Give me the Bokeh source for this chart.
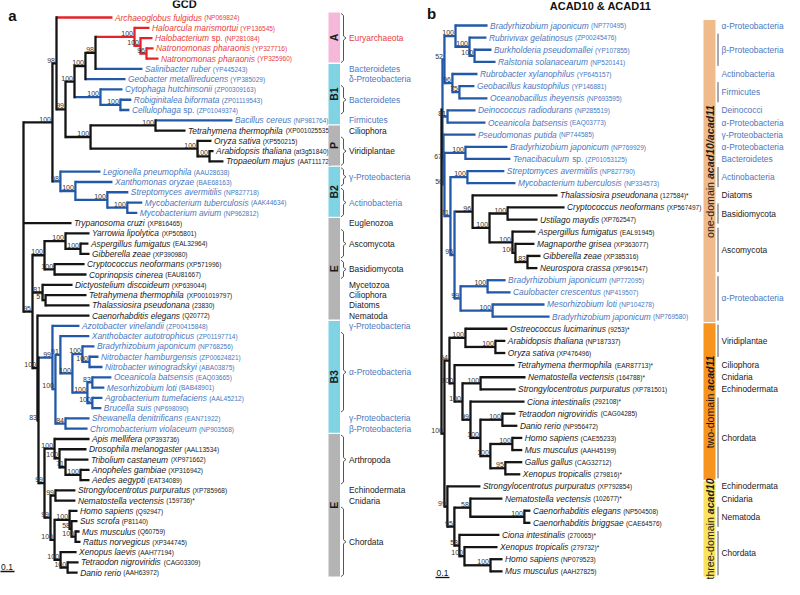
import math
from bokeh.plotting import figure
from bokeh.models import ColumnDataSource, Range1d
from bokeh.core.properties import value
from bokeh.embed import file_html
from bokeh.resources import INLINE

FONT = "Liberation Sans"

# ------------------------------------------------------------------ panel a : GCD
GCD_NAMES = [
    "Archaeoglobus fulgidus", "Haloarcula marismortui", "Halobacterium sp.", "Natronomonas pharaonis",
    "Natronomonas pharaonis", "Salinibacter ruber", "Geobacter metallireducens", "Cytophaga hutchinsonii",
    "Robiginitalea biformata", "Cellulophaga sp.", "Bacillus cereus", "Tetrahymena thermophila",
    "Oryza sativa", "Arabidopsis thaliana", "Tropaeolum majus", "Legionella pneumophila",
    "Xanthomonas oryzae", "Streptomyces avermitilis", "Mycobacterium tuberculosis", "Mycobacterium avium",
    "Trypanosoma cruzi", "Yarrowia lipolytica", "Aspergillus fumigatus", "Gibberella zeae",
    "Cryptococcus neoformans", "Coprinopsis cinerea", "Dictyostelium discoideum", "Tetrahymena thermophila",
    "Thalassiosira pseudonana", "Caenorhabditis elegans", "Azotobacter vinelandii", "Xanthobacter autotrophicus",
    "Bradyrhizobium japonicum", "Nitrobacter hamburgensis", "Nitrobacter winogradskyi", "Oceanicola batsensis",
    "Mesorhizobium loti", "Agrobacterium tumefaciens", "Brucella suis", "Shewanella denitrificans",
    "Chromobacterium violaceum", "Apis mellifera", "Drosophila melanogaster", "Tribolium castaneum",
    "Anopheles gambiae", "Aedes aegypti", "Strongylocentrotus purpuratus", "Nematostella vectensis",
    "Homo sapiens", "Sus scrofa", "Mus musculus", "Rattus norvegicus", "Xenopus laevis",
    "Tetraodon nigroviridis", "Danio rerio"]
GCD_ACC = [
    "(NP069824)", "(YP136545)", "(NP281084)", "(YP327716)", "(YP325960)", "(YP445243)", "(YP385029)",
    "(ZP00309163)", "(ZP01119543)", "(ZP01049374)", "(NP981764)", "(XP001025535)", "(XP550215)",
    "(at3g51840)", "(AAT11172)", "(AAU28638)", "(BAE68163)", "(NP827718)", "(AAK44634)", "(NP962812)",
    "(XP816465)", "(XP505801)", "(EAL32964)", "(XP390980)", "(XP571996)", "(EAU81667)", "(XP639044)",
    "(XP001019797)", "(23830)", "(Q20772)", "(ZP00415848)", "(ZP01197714)", "(NP768256)", "(ZP00624821)",
    "(ABA03875)", "(EAQ03665)", "(BAB48901)", "(AAL45212)", "(NP698090)", "(EAN71922)", "(NP903568)",
    "(XP393736)", "(AAL13534)", "(XP971662)", "(XP316942)", "(EAT34089)", "(XP785968)", "(159736)*",
    "(Q92947)", "(P81140)", "(Q60759)", "(XP344745)", "(AAH77194)", "(CAG03309)", "(AAH63972)"]
# r = archaea (red), b = bacteria (blue), k = eukaryotes (black)
GCD_KIND = "rrrrr" + "bbbbbb" + "kkkk" + "bbbbb" + "kkkkkkkkkk" + "bbbbbbbbbbb" + "kkkkkkkkkkkkkk"

# tree topology: leaf index : branch length, internal label = bootstrap
HALO = "(1:0.1,(2:0.08,(3:0.047,4:0.08)96:0.04)100:0.04)100:0.26"
CLADE_F = f"({HALO},5:0.313)98:0.067"
CLADE_E = f"({CLADE_F},6:0.267)100:0.073"
CYTO = "(7:0.147,(8:0.073,9:0.06)100:0.133)100:0.173"
CLADE_D = f"({CLADE_E},{CYTO})100:0.06"
CLADE_P = "((10:0.513,11:0.2)100:0.433,(12:0.093,(13:0.027,14:0.093)100:0.08)100:0.713)100:0.167"
CLADE_C = f"({CLADE_D},{CLADE_P})99:0.06"
CLADE_B = f"(0:0.373,{CLADE_C})98:0.027"
CLADE_B2 = "(15:0.267,(16:0.247,(17:0.14,(18:0.1,19:0.067)100:0.133)100:0.213)100:0.1)98:0.053"
CLADE_A1 = f"({CLADE_B},{CLADE_B2})100:0.193"
FUNGI = "((21:0.16,(22:0.053,23:0.06)100:0.1)100:0.14,(24:0.2,25:0.213)100:0.067)100:0.08"
CLADE_81 = "(26:0.2,(27:0.273,28:0.293)57:0.02)81:0.067"
CLADE_B3 = ("(30:0.18,((31:0.193,((32:0.08,(33:0.06,34:0.087)100:0.047)100:0.067,"
            "((35:0.127,36:0.08)83:0.033,(37:0.067,38:0.06)100:0.033)100:0.1)100:0.08)91:0.033,"
            "(39:0.16,40:0.147)84:0.067)100:0.02)99:0.093")
ARTHRO = "(41:0.233,(42:0.18,(43:0.153,(44:0.06,45:0.06)100:0.1)71:0.04)100:0.033)100:0.067"
VERT = ("((48:0.053,(49:0.04,(50:0.027,51:0.033)100:0.027)58:0.013)100:0.1,"
        "(52:0.107,(53:0.073,54:0.067)100:0.047)100:0.04)100:0.027")
DEUT = f"((46:0.133,47:0.133)99:0.033,{VERT})99:0.04"
METAZOA = f"({ARTHRO},{DEUT})99:0.04"
CLADE_83 = f"({CLADE_B3},{METAZOA})83:0.007"
CLADE_100B = f"(29:0.347,{CLADE_83})100:0.033"
CLADE_95 = f"({FUNGI},{CLADE_81},{CLADE_100B})95:0.06"
GCD_NEWICK = f"({CLADE_A1},20:0.32,{CLADE_95});"

GCD_GROUP_LABELS = ["Euryarchaeota", "Bacteroidetes", "δ-Proteobacteria", "Bacteroidetes", "Firmicutes",
                    "Ciliophora", "Viridiplantae", "γ-Proteobacteria", "Actinobacteria", "Euglenozoa",
                    "Ascomycota", "Basidiomycota", "Mycetozoa", "Ciliophora", "Diatoms", "Nematoda",
                    "γ-Proteobacteria", "α-Proteobacteria", "γ-Proteobacteria", "β-Proteobacteria",
                    "Arthropoda", "Echinodermata", "Cnidaria", "Chordata"]
GCD_GROUP_FIRST = [0, 5, 6, 7, 10, 11, 12, 15, 17, 20, 21, 24, 26, 27, 28, 29, 30, 31, 39, 40, 41, 46, 47, 48]
GCD_GROUP_LAST = [4, 5, 6, 9, 10, 11, 14, 16, 19, 20, 23, 25, 26, 27, 28, 29, 30, 38, 39, 40, 45, 46, 47, 54]

GCD_BAR_TEXT = ["A", "B1", "P", "B2", "E", "B3", "E"]
GCD_BAR_FIRST = [0, 5, 11, 15, 20, 30, 41]
GCD_BAR_LAST = [4, 10, 14, 19, 29, 40, 54]
GCD_BAR_KIND = ["pink", "cyan", "gray", "cyan", "gray", "cyan", "gray"]

# ------------------------------------------------------------------ panel b : ACAD10 & ACAD11
ACAD_NAMES = [
    "Bradyrhizobium japonicum", "Rubrivivax gelatinosus", "Burkholderia pseudomallei", "Ralstonia solanacearum",
    "Rubrobacter xylanophilus", "Geobacillus kaustophilus", "Oceanobacillus iheyensis", "Deinococcus radiodurans",
    "Oceanicola batsensis", "Pseudomonas putida", "Bradyrhizobium japonicum", "Tenacibaculum sp.",
    "Streptomyces avermitilis", "Mycobacterium tuberculosis", "Thalassiosira pseudonana", "Cryptococcus neoformans",
    "Ustilago maydis", "Aspergillus fumigatus", "Magnaporthe grisea", "Gibberella zeae", "Neurospora crassa",
    "Bradyrhizobium japonicum", "Caulobacter crescentus", "Mesorhizobium loti", "Bradyrhizobium japonicum",
    "Ostreococcus lucimarinus", "Arabidopsis thaliana", "Oryza sativa", "Tetrahymena thermophila",
    "Nematostella vectensis", "Strongylocentrotus purpuratus", "Ciona intestinalis", "Tetraodon nigroviridis",
    "Danio rerio", "Homo sapiens", "Mus musculus", "Gallus gallus", "Xenopus tropicalis",
    "Strongylocentrotus purpuratus", "Nematostella vectensis", "Caenorhabditis elegans",
    "Caenorhabditis briggsae", "Ciona intestinalis", "Xenopus tropicalis", "Homo sapiens", "Mus musculus"]
ACAD_ACC = [
    "(NP770495)", "(ZP00245476)", "(YP107855)", "(NP520141)", "(YP645157)", "(YP146881)", "(NP693595)",
    "(NP285519)", "(EAQ03773)", "(NP744585)", "(NP769929)", "(ZP01053125)", "(NP827790)", "(NP334573)",
    "(127584)*", "(XP567497)", "(XP762547)", "(EAL91945)", "(XP363077)", "(XP385316)", "(XP961547)",
    "(NP772095)", "(NP419507)", "(NP104278)", "(NP769580)", "(9253)*", "(NP187337)", "(XP476496)",
    "(EAR87713)*", "(164788)*", "(XP781501)", "(292108)*", "(CAG04285)", "(NP956472)", "(CAE55233)",
    "(AAH45199)", "(CAG32712)", "(279816)*", "(XP792854)", "(102677)*", "(NP504508)", "(CAE64576)",
    "(270065)*", "(279732)*", "(NP079523)", "(AAH27825)"]
ACAD_KIND = "b" * 14 + "k" * 7 + "b" * 4 + "k" * 21

N52 = ("((0:0.229,(1:0.121,(2:0.121,3:0.15)100:0.036)100:0.1)100:0.079,"
       "(4:0.179,(5:0.107,6:0.2)75:0.05)96:0.057)52:0.014")
D1R = "(7:0.2,8:0.271)81:0.036"
FUNGI_R = ("((15:0.407,16:0.214)100:0.129,(17:0.164,(18:0.136,(19:0.093,20:0.071)83:0.086)100:0.021)100:0.164)"
           "100:0.121")
THALFU = f"(14:0.607,{FUNGI_R})96:0.129"
ALPHA_R = "((21:0.129,22:0.164)100:0.193,(23:0.371,24:0.407)100:0.229)99:0.043"
N95R = f"({THALFU},{ALPHA_R})95#b:0.029"
N71 = f"((12:0.264,13:0.343)100:0.121,{N95R})71#b:0.043"
N56 = f"((10:0.3,11:0.321)100:0.15,{N71})56#b:0.007"
N67 = f"(9:0.229,{N56})67#b:0.007"
ONE_DOMAIN = f"({N52},{D1R},{N67}):0.007"
TWO_DOMAIN = ("((25:0.3,(26:0.071,27:0.071)100:0.214)100:0.114,(28:0.429,((29:0.321,30:0.25)100:0.129,"
              "(31:0.386,((32:0.093,33:0.107)100:0.157,((34:0.071,35:0.071)100:0.157,(36:0.121,37:0.107)95:0.107)"
              "100:0.071)100:0.071)99:0.057)100:0.057)100:0.036)54:0.036")
THREE_DOMAIN = ("(38:0.236,((39:0.229,(40:0.043,41:0.043)100:0.386)58:0.114,(42:0.286,(43:0.236,"
                "(44:0.086,45:0.086)100:0.186)100:0.036)53:0.036)95:0.05)99:0.021")
ACAD_NEWICK = f"({ONE_DOMAIN},({TWO_DOMAIN},{THREE_DOMAIN})100:0.021);"

ACAD_GROUP_LABELS = ["α-Proteobacteria", "β-Proteobacteria", "Actinobacteria", "Firmicutes", "Deinococci",
                     "α-Proteobacteria", "γ-Proteobacteria", "α-Proteobacteria", "Bacteroidetes", "Actinobacteria",
                     "Diatoms", "Basidiomycota", "Ascomycota", "α-Proteobacteria", "Viridiplantae", "Ciliophora",
                     "Cnidaria", "Echinodermata", "Chordata", "Echinodermata", "Cnidaria", "Nematoda", "Chordata"]
ACAD_GROUP_FIRST = [0, 1, 4, 5, 7, 8, 9, 10, 11, 12, 14, 15, 17, 21, 25, 28, 29, 30, 31, 38, 39, 40, 42]
ACAD_GROUP_LAST = [0, 3, 4, 6, 7, 8, 9, 10, 11, 13, 14, 16, 20, 24, 27, 28, 29, 30, 37, 38, 39, 41, 45]

ACAD_BAR_PLAIN = ["one-domain ", "two-domain ", "three-domain "]
ACAD_BAR_BOLD = ["acad10/acad11", "acad11", "acad10"]
ACAD_BAR_FIRST = [0, 25, 38]
ACAD_BAR_LAST = [24, 37, 45]
ACAD_BAR_KIND = ["tan", "orange", "yellow"]

# ------------------------------------------------------------------ styles
LINE = {"k": "#141414", "b": "#2258a8", "r": "#e3232a"}
TEXT = {"k": "#1a1a1a", "b": "#4a78c0", "r": "#e8403c"}
FILL = {"pink": "#f5b8da", "cyan": "#7fd3e3", "gray": "#b4b4b4",
        "tan": "#efbb8a", "orange": "#f7941d", "yellow": "#f8e45c"}

W_REG = {}
for chars, w in [(" ftI.,/:;!", 278), ("ijl", 222), ("r()-", 333), ("ckvsxyzJ", 500),
                 ("abdeghnopqu0123456789L", 556), ("FTZ", 611), ("ABEKPSVXY&", 667),
                 ("CDHNRUw", 722), ("GOQ", 778), ("mM", 833), ("W", 944), ("*", 389),
                 ("αβ", 578), ("γ", 500), ("δ", 556)]:
    for ch in chars:
        W_REG[ch] = w
W_BOLD = {"a": 556, "c": 556, "d": 611, "/": 278}
for ch in "0123456789":
    W_BOLD[ch] = 556


def tw(s, size, bold=False):
    tot = 0
    for ch in s:
        if bold and ch in W_BOLD:
            tot += W_BOLD[ch]
        else:
            tot += W_REG.get(ch, 556)
    return tot / 1000.0 * size


def parse_newick(s):
    pos = 0

    def node():
        nonlocal pos
        n = {"children": [], "label": "", "bl": 0.0}
        if s[pos] == "(":
            pos += 1
            n["children"].append(node())
            while s[pos] == ",":
                pos += 1
                n["children"].append(node())
            pos += 1  # ')'
        st = pos
        while s[pos] not in ":,();":
            pos += 1
        n["label"] = s[st:pos]
        if s[pos] == ":":
            pos += 1
            st = pos
            while s[pos] not in ",();":
                pos += 1
            n["bl"] = float(s[st:pos])
        return n

    return node()


p = figure(width=784, height=579, x_range=Range1d(8, 792), y_range=Range1d(587, 8),
           output_backend="svg", toolbar_location=None, x_axis_location=None,
           y_axis_location=None, min_border=0)
p.grid.visible = False
p.outline_line_color = None
p.background_fill_color = "white"

NAME_SIZE = 8.4
ACC_SIZE = 6.5
BOOT_SIZE = 7.0
GROUP_SIZE = 8.4


def draw_tree(newick, kinds, names, accs, x0, scale, y0, dy):
    tree = parse_newick(newick)
    hs = dict(x0=[], y0=[], x1=[], y1=[], c=[])
    vs = dict(x0=[], y0=[], x1=[], y1=[], c=[])
    boots = dict(x=[], y=[], t=[])
    leaves = {}

    def rec(n, px):
        x = px + n["bl"] * scale
        if not n["children"]:
            i = int(n["label"])
            y = y0 + i * dy
            k = kinds[i]
            leaves[i] = (x, y)
        else:
            res = [rec(c, x) for c in n["children"]]
            ys = [r[0] for r in res]
            ks = [r[1] for r in res]
            y = (ys[0] + ys[-1]) / 2.0
            boot, _, tag = n["label"].partition("#")
            k = tag if tag else (ks[0] if all(q == ks[0] for q in ks) else "k")
            for d, v in zip(("x0", "y0", "x1", "y1", "c"), (x, ys[0], x, ys[-1], LINE[k])):
                vs[d].append(v)
            if boot:
                boots["x"].append(x - 1.5)
                boots["y"].append(y - 0.8)
                boots["t"].append(boot)
        if x > px:
            for d, v in zip(("x0", "y0", "x1", "y1", "c"), (px, y, x, y, LINE[k])):
                hs[d].append(v)
        return y, k

    rec(tree, x0)
    p.segment(x0="x0", y0="y0", x1="x1", y1="y1", line_color="c", line_width=2.3,
              source=ColumnDataSource(hs))
    p.segment(x0="x0", y0="y0", x1="x1", y1="y1", line_color="c", line_width=2.3,
              line_cap="square", source=ColumnDataSource(vs))
    p.text(x="x", y="y", text="t", source=ColumnDataSource(boots), text_font=value(FONT),
           text_font_size=f"{BOOT_SIZE}px", text_color="#333333", text_align="right", text_baseline="bottom")

    nm = dict(x=[], y=[], t=[], c=[])
    up = dict(x=[], y=[], t=[], c=[])
    ac = dict(x=[], y=[], t=[], c=[])
    for i, (lx, ly) in leaves.items():
        col = TEXT[kinds[i]]
        xt = lx + 2.5
        name = names[i]
        if name.endswith(" sp."):
            ital = name[:-4]
            nm["x"].append(xt); nm["y"].append(ly); nm["t"].append(ital); nm["c"].append(col)
            xs = xt + tw(ital + " ", NAME_SIZE)
            up["x"].append(xs); up["y"].append(ly); up["t"].append("sp."); up["c"].append(col)
            xa = xs + tw("sp.", NAME_SIZE) + 2.0
        else:
            nm["x"].append(xt); nm["y"].append(ly); nm["t"].append(name); nm["c"].append(col)
            xa = xt + tw(name, NAME_SIZE) + 2.0
        ac["x"].append(xa); ac["y"].append(ly + 0.3); ac["t"].append(accs[i]); ac["c"].append(col)
    p.text(x="x", y="y", text="t", text_color="c", source=ColumnDataSource(nm), text_font=value(FONT),
           text_font_size=f"{NAME_SIZE}px", text_font_style="italic", text_baseline="middle")
    p.text(x="x", y="y", text="t", text_color="c", source=ColumnDataSource(up), text_font=value(FONT),
           text_font_size=f"{NAME_SIZE}px", text_baseline="middle")
    p.text(x="x", y="y", text="t", text_color="c", source=ColumnDataSource(ac), text_font=value(FONT),
           text_font_size=f"{ACC_SIZE}px", text_baseline="middle")


def draw_groups(labels, first, last, kinds, y0, dy, brace_x, text_x, curly):
    t = dict(x=[], y=[], t=[], c=[])
    bx, by = [], []
    for lab, f, l in zip(labels, first, last):
        ya, yb = y0 + f * dy, y0 + l * dy
        t["x"].append(text_x); t["y"].append((ya + yb) / 2); t["t"].append(lab); t["c"].append(TEXT[kinds[f]])
        if l > f:
            y1, y2 = ya - 4, yb + 4
            ym = (y1 + y2) / 2
            if curly:
                bx.append([brace_x - 3, brace_x - 0.5, brace_x - 0.5, brace_x + 2, brace_x - 0.5,
                           brace_x - 0.5, brace_x - 3])
                by.append([y1, y1 + 2, ym - 2, ym, ym + 2, y2 - 2, y2])
            else:
                bx.append([brace_x, brace_x])
                by.append([y1, y2])
    p.multi_line(xs=bx, ys=by, line_color="#555555", line_width=1)
    p.text(x="x", y="y", text="t", text_color="c", source=ColumnDataSource(t), text_font=value(FONT),
           text_font_size=f"{GROUP_SIZE}px", text_baseline="middle")


# ---- panel a
GY0, GDY = 25.0, 10.28
draw_tree(GCD_NEWICK, GCD_KIND, GCD_NAMES, GCD_ACC, 31.0, 150.0, GY0, GDY)
bars = dict(l=[], r=[], t=[], b=[], c=[])
bt = dict(x=[], y=[], t=[])
for txt, f, l, k in zip(GCD_BAR_TEXT, GCD_BAR_FIRST, GCD_BAR_LAST, GCD_BAR_KIND):
    ya, yb = GY0 + f * GDY - 5, GY0 + l * GDY + 4
    bars["l"].append(336); bars["r"].append(347.5); bars["t"].append(ya); bars["b"].append(yb)
    bars["c"].append(FILL[k])
    bt["x"].append(341.8); bt["y"].append((ya + yb) / 2); bt["t"].append(txt)
p.quad(left="l", right="r", top="t", bottom="b", fill_color="c", line_color=None, source=ColumnDataSource(bars))
p.text(x="x", y="y", text="t", source=ColumnDataSource(bt), angle=math.pi / 2, text_font=value(FONT),
       text_font_size="10.5px", text_font_style="bold", text_align="center", text_baseline="middle",
       text_color="#1a1a1a")
draw_groups(GCD_GROUP_LABELS, GCD_GROUP_FIRST, GCD_GROUP_LAST, GCD_KIND, GY0, GDY, 351.5, 356.5, True)

# ---- panel b
AY0, ADY = 33.0, 12.13
draw_tree(ACAD_NEWICK, ACAD_KIND, ACAD_NAMES, ACAD_ACC, 449.0, 140.0, AY0, ADY)
bars2 = dict(l=[], r=[], t=[], b=[], c=[])
pl = dict(x=[], y=[], t=[])
bo = dict(x=[], y=[], t=[])
BAR_FS = 10.6
for plain, bold, f, l, k in zip(ACAD_BAR_PLAIN, ACAD_BAR_BOLD, ACAD_BAR_FIRST, ACAD_BAR_LAST, ACAD_BAR_KIND):
    ya, yb = AY0 + f * ADY - 5.5, AY0 + l * ADY + 5.5
    bars2["l"].append(711); bars2["r"].append(723); bars2["t"].append(ya); bars2["b"].append(yb)
    bars2["c"].append(FILL[k])
    w1 = tw(plain, BAR_FS)
    w2 = tw(bold, BAR_FS, bold=True)
    ystart = (ya + yb) / 2 + (w1 + w2) / 2
    pl["x"].append(717.5); pl["y"].append(ystart); pl["t"].append(plain)
    bo["x"].append(717.5); bo["y"].append(ystart - w1); bo["t"].append(bold)
p.quad(left="l", right="r", top="t", bottom="b", fill_color="c", line_color=None, source=ColumnDataSource(bars2))
p.text(x="x", y="y", text="t", source=ColumnDataSource(pl), angle=math.pi / 2, text_font=value(FONT),
       text_font_size=f"{BAR_FS}px", text_align="left", text_baseline="middle", text_color="#1a1a1a")
p.text(x="x", y="y", text="t", source=ColumnDataSource(bo), angle=math.pi / 2, text_font=value(FONT),
       text_font_size=f"{BAR_FS}px", text_font_style="bold italic", text_align="left",
       text_baseline="middle", text_color="#1a1a1a")
draw_groups(ACAD_GROUP_LABELS, ACAD_GROUP_FIRST, ACAD_GROUP_LAST, ACAD_KIND, AY0, ADY, 725.5, 729.0, False)

# ---- titles, panel letters, scale bars
p.text(x=[192, 608], y=[11, 13], text=["GCD", "ACAD10 & ACAD11"], text_font=value(FONT),
       text_font_size="11px", text_font_style="bold", text_align="center", text_baseline="middle",
       text_color="#111111")
p.text(x=[20, 439], y=[23, 21], text=["a", "b"], text_font=value(FONT), text_font_size="15px",
       text_font_style="bold", text_align="center", text_baseline="middle", text_color="#111111")
SCALE_UNIT = 0.1
p.segment(x0=[7, 443], y0=[579, 585], x1=[7 + SCALE_UNIT * 150.0, 443 + SCALE_UNIT * 140.0], y1=[579, 585],
          line_color="#111111", line_width=1.3)
p.text(x=[7 + SCALE_UNIT * 75.0, 443 + SCALE_UNIT * 70.0], y=[577.5, 583.5], text=["0.1", "0.1"],
       text_font=value(FONT), text_font_size="8.5px", text_align="center", text_baseline="bottom",
       text_color="#111111")

open("out.html", "w").write(file_html(p, INLINE))
